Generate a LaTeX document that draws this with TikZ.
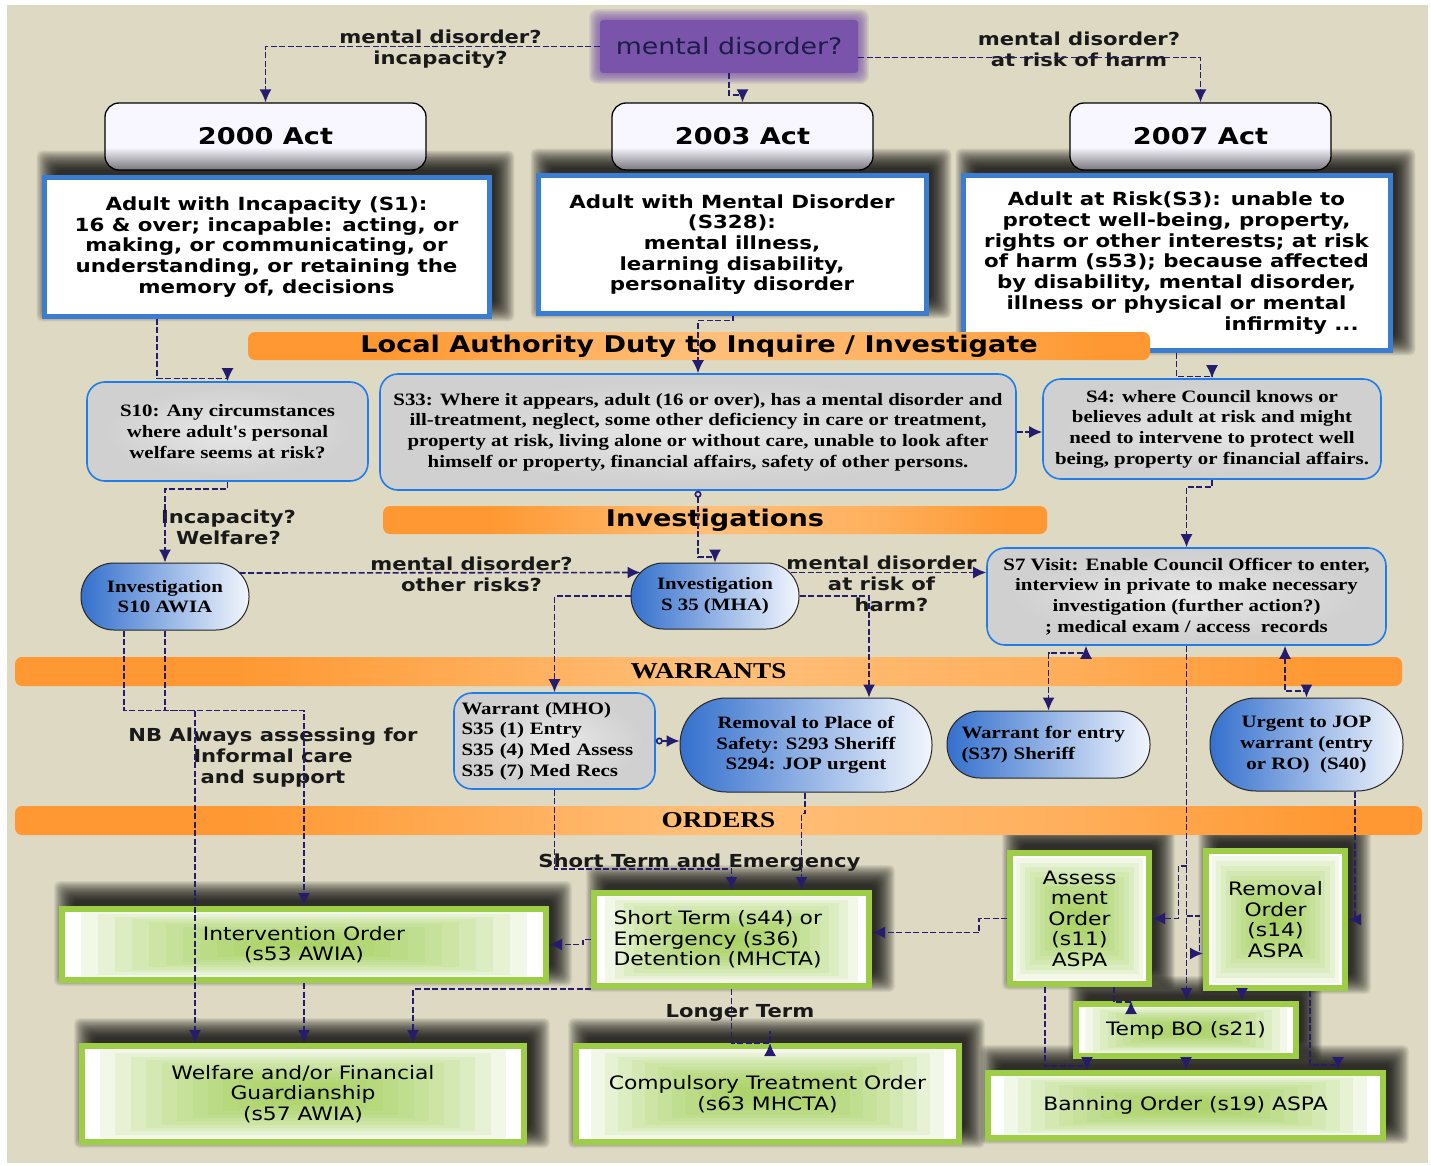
\documentclass[tikz,border=0pt]{standalone}
\usepackage{fontspec}
\setmainfont{DejaVu Sans}[FakeStretch=1.18]
\newfontfamily\tms{Liberation Serif}[FakeStretch=1.2]
\usetikzlibrary{arrows.meta,calc}
\pgfdeclarelayer{bgl}\pgfdeclarelayer{shl}
\pgfsetlayers{bgl,shl,main}
\definecolor{beige}{RGB}{221,217,195}
\definecolor{navy}{RGB}{38,28,110}
\definecolor{purp}{RGB}{122,84,170}
\definecolor{purptx}{RGB}{28,28,72}
\definecolor{bluebd}{RGB}{60,125,210}
\definecolor{graybd}{RGB}{30,125,235}
\definecolor{grayf}{RGB}{208,208,208}
\definecolor{grayc}{RGB}{232,232,232}
\definecolor{pillL}{RGB}{52,112,205}
\definecolor{pillR}{RGB}{242,246,253}
\definecolor{grn}{RGB}{158,205,72}
\definecolor{grnc}{RGB}{155,204,72}
\definecolor{or1}{RGB}{255,152,50}
\definecolor{or2}{RGB}{255,192,122}
\definecolor{actg}{RGB}{118,118,124}
\definecolor{actt}{RGB}{248,246,254}
\pgfdeclareverticalshading{actsh}{100bp}{color(0bp)=(actg); color(25bp)=(actg); color(42bp)=(actt); color(75bp)=(actt); color(100bp)=(actt)}
\pgfdeclarehorizontalshading{orsh}{100bp}{color(0bp)=(or1); color(25bp)=(or1); color(33bp)=(or1); color(50bp)=(or2); color(62bp)=(or2!60!or1); color(72bp)=(or1); color(100bp)=(or1)}
\pgfdeclareradialshading{gysh}{\pgfpoint{0bp}{0bp}}{color(0bp)=(grayc); color(22bp)=(grayf); color(50bp)=(grayf)}
\newcommand\mkbox[7]{%
 \pgfmathsetmacro\mcx{(#3+#5)/2}%
 \pgfmathsetmacro\mcy{(#4+#6)/2}%
 \pgfmathsetmacro\mw{#5-#3}%
 \pgfmathsetmacro\mh{#6-#4}%
 \node[#1, minimum width=\mw pt, minimum height=\mh pt] (#2) at (\mcx,\mcy) {#7};}
\newcommand\fuzz[1]{%
 \foreach \k in {0,...,28}{%
  \pgfmathsetmacro\ee{(\k-8)*0.7}%
  \fill[black,opacity=0.048,rounded corners=5pt] ($(#1.south west)+(9-\ee,-11+\ee)$) rectangle ($(#1.north east)+(9+\ee,-11-\ee)$);}}
\tikzset{
 every node/.style={align=center, inner sep=0pt, text=black},
 actbox/.style={draw=black, line width=1.3pt, rounded corners=14pt, shade, shading=actsh, font=\fontsize{23}{26}\selectfont\bfseries},
 bluebox/.style={draw=bluebd, line width=5pt, fill=white, font=\fontsize{18.1}{20.7}\selectfont\bfseries},
 graybox/.style={draw=graybd, line width=1.6pt, rounded corners=18pt, shade, shading=gysh, font=\tms\bfseries\fontsize{17.4}{20.7}\selectfont},
 pill/.style={draw=black!85, line width=1pt, left color=pillL, right color=pillR, font=\tms\bfseries\fontsize{17.4}{20.7}\selectfont},
 grnbox/.style={draw=grn, line width=6pt, fill=white, font=\fontsize{18.5}{20.5}\selectfont,
   path picture={\foreach \f in {0.08,0.15,0.22,0.29,0.36,0.43,0.5,0.57,0.64,0.71,0.78,0.85,0.92}{
     \fill[grnc,opacity=0.12] ($(path picture bounding box.south west)!\f*0.5!(path picture bounding box.north east)$) rectangle ($(path picture bounding box.north east)!\f*0.5!(path picture bounding box.south west)$);}}},
 barx/.style={rounded corners=7pt, shade, shading=orsh, font=\fontsize{23}{26}\selectfont\bfseries},
 bart/.style={rounded corners=7pt, shade, shading=orsh, font=\tms\bfseries\fontsize{22.7}{24}\selectfont},
 purpbox/.style={fill=purp, rounded corners=3pt, text=purptx, font=\fontsize{22.7}{25}\selectfont},
 lbl/.style={text=black!90, font=\fontsize{17.9}{21}\selectfont\bfseries},
 con/.style={draw=navy, line width=1.6pt, dash pattern=on 6pt off 2.5pt, -{Latex[length=13pt,width=12pt]}},
 both/.style={{Latex[length=13pt,width=12pt]}-{Latex[length=13pt,width=12pt]}},
 circ/.style={{Circle[open,length=7pt,width=7pt]}-{Latex[length=13pt,width=12pt]}},
}
\begin{document}
\begin{tikzpicture}[x=1pt,y=-1pt]
\useasboundingbox (0,0) rectangle (1431,1166);
\begin{pgfonlayer}{bgl}
 \fill[white] (0,0) rectangle (1431,1166);
 \fill[beige] (7,5) rectangle (1428,1163);
\end{pgfonlayer}
% top
\mkbox{purpbox}{pm}{600}{20}{858}{73}{mental disorder?}
\mkbox{actbox}{a2000}{105}{103}{426}{170}{2000 Act}
\mkbox{actbox}{a2003}{612}{103}{873}{170}{2003 Act}
\mkbox{actbox}{a2007}{1070}{103}{1331}{170}{2007 Act}
\mkbox{bluebox}{b2000}{44}{178}{489}{316}{Adult with Incapacity (S1):\\16 \& over; incapable: acting, or\\making, or communicating, or\\understanding, or retaining the\\memory of, decisions}
\mkbox{bluebox}{b2003}{538}{176}{926}{313}{Adult with Mental Disorder\\(S328):\\mental illness,\\learning disability,\\personality disorder}
\mkbox{bluebox}{b2007}{963}{176}{1390}{350}{Adult at Risk(S3): unable to\\protect well-being, property,\\rights or other interests; at risk\\of harm (s53); because affected\\by disability, mental disorder,\\illness or physical or mental\\\hspace*{230pt}infirmity ...}
% bars
\mkbox{barx}{barA}{248}{332}{1150}{360}{Local Authority Duty to Inquire / Investigate}
\mkbox{barx}{barB}{383}{506}{1047}{534}{Investigations}
\mkbox{bart}{barC}{15}{657}{1402}{686}{WARRANTS}
\mkbox{bart}{barD}{15}{806}{1422}{835}{ORDERS}
% gray boxes
\mkbox{graybox}{s10}{87}{382}{368}{481}{S10: Any circumstances\\where adult's personal\\welfare seems at risk?}
\mkbox{graybox}{s33}{380}{374}{1016}{490}{S33: Where it appears, adult (16 or over), has a mental disorder and\\ill-treatment, neglect, some other deficiency in care or treatment,\\property at risk, living alone or without care, unable to look after\\himself or property, financial affairs, safety of other persons.}
\mkbox{graybox}{s4}{1043}{379}{1381}{479}{S4: where Council knows or\\believes adult at risk and might\\need to intervene to protect well\\being, property or financial affairs.}
\mkbox{graybox}{s7}{987}{548}{1386}{645}{S7 Visit: Enable Council Officer to enter,\\interview in private to make necessary\\investigation (further action?)\\; medical exam / access~~records}
\mkbox{graybox,align=left,text width=186pt}{wmho}{454}{693}{655}{789}{Warrant (MHO)\\S35 (1) Entry\\S35 (4) Med Assess\\S35 (7) Med Recs}
% pills
\mkbox{pill,rounded corners=33pt}{i10}{81}{563}{249}{630}{Investigation\\S10 AWIA}
\mkbox{pill,rounded corners=32.5pt}{i35}{631}{563}{799}{629}{Investigation\\S 35 (MHA)}
\mkbox{pill,rounded corners=46.5pt}{rps}{680}{698}{932}{792}{Removal to Place of\\Safety: S293 Sheriff\\S294: JOP urgent}
\mkbox{pill,rounded corners=33pt,align=left,text width=174pt}{wfe}{947}{711}{1150}{778}{Warrant for entry\\(S37) Sheriff}
\mkbox{pill,rounded corners=46pt}{ujop}{1210}{698}{1403}{791}{Urgent to JOP\\warrant (entry\\or RO)~~(S40)}
% green boxes
\mkbox{grnbox}{io}{62}{909}{546}{980}{Intervention Order\\(s53 AWIA)}
\mkbox{grnbox,align=left,text width=236pt}{st}{594}{893}{869}{986}{Short Term (s44) or\\Emergency (s36)\\Detention (MHCTA)}
\mkbox{grnbox}{ao}{1010}{853}{1149}{984}{Assess\\ment\\Order\\(s11)\\ASPA}
\mkbox{grnbox}{ro}{1206}{851}{1345}{988}{Removal\\Order\\(s14)\\ASPA}
\mkbox{grnbox}{tbo}{1076}{1004}{1296}{1056}{Temp BO (s21)}
\mkbox{grnbox}{wg}{82}{1046}{524}{1142}{Welfare and/or Financial\\Guardianship\\(s57 AWIA)}
\mkbox{grnbox}{cto}{576}{1046}{959}{1142}{Compulsory Treatment Order\\(s63 MHCTA)}
\mkbox{grnbox}{bo}{988}{1073}{1383}{1138}{Banning Order (s19) ASPA}
% labels
\node[lbl] (l1) at (440.5,49) {mental disorder?\\incapacity?};
\node[lbl] (l2) at (1079,49) {mental disorder?\\at risk of harm};
\node[lbl] (l3) at (228.5,527) {Incapacity?\\Welfare?};
\node[lbl] (l4) at (471.5,574) {mental disorder?\\other risks?};
\node[lbl] (l5) at (881.5,584) {mental disorder\\at risk of\\\hspace*{20pt}harm?};
\node[lbl] (l6) at (273,758) {NB Always assessing for\\Informal care\\and support};
\node[lbl] (l7) at (699.5,863) {Short Term and Emergency};
\node[lbl] (l8) at (740,1013) {Longer Term};
% shadows
\begin{pgfonlayer}{shl}
 \foreach \n in {b2000,b2003,b2007,io,st,ao,ro,tbo,wg,cto,bo} {\fuzz{\n}}
 \foreach \e in {1,...,7}{
  \fill[purp,opacity=0.16,rounded corners=8pt] ($(pm.south west)+(-\e*1.5,\e*1.5)$) rectangle ($(pm.north east)+(\e*1.5,-\e*1.5)$);}
\end{pgfonlayer}
% connectors
\draw[con] (pm.west) -| (a2000.north);
\draw[con] (pm.south) -- ++(0,22) -| (a2003.north);
\draw[con] ($(pm.east)+(0,11)$) -| (a2007.north);
\draw[con] ([xshift=-109.5pt]b2000.south) -- ++(0,60) -| (s10.north);
\draw[con] ([xshift=1pt]b2003.south) -- ++(0,5) -| (s33.north);
\draw[con] (b2007.south) -- ++(0,24) -| (s4.north);
\draw[con] (s33.east) -- (s33.east -| s4.west);
\draw[con] (s10.south) -- ++(0,7) -| (i10.north);
\draw[con,circ] (s33.south) -- ++(0,66) -| (i35.north);
\draw[con] (s4.south) -- ++(0,7) -| (s7.north);
\draw[con] ($(i10.east)+(-10,-23.5)$) -- ($(i35.west)+(10,-23.5)$);
\draw[con] ($(i35.east)+(-9,-23.5)$) -- ($(s7.west)+(0,-24)$);
\draw[con] (i35.west) -| (wmho.north);
\draw[con] (i35.east) -| ([xshift=63pt]rps.north);
\draw[con,circ] (wmho.east) -- (wmho.east -| rps.west);
\draw[con] (wmho.south) -- ++(0,79) -| (st.north);
\draw[con] ([xshift=-1pt]rps.south) -- ++(0,21) -| ([xshift=70pt]st.north);
\draw[con,both] ([xshift=-100.5pt]s7.south) -- ++(0,7) -| (wfe.north);
\draw[con] (s7.south) -- (s7.south |- tbo.north);
\draw[con] ($(s7.south)+(0,220)$) -- ++(-8,0) |- (ao.east);
\draw[con] ($(s7.south)+(0,270)$) -- ++(13,0) |- ($(ro.west)+(0,34)$);
\draw[con,both] ([xshift=98.5pt]s7.south) -- ++(0,45) -| (ujop.north);
\draw[con] ([xshift=48.5pt]ujop.south) |- (ro.east);
\draw[con] (ao.west) -- ++(-28,0) |- ($(st.east)+(0,-7)$);
\draw[con] (st.west) -- ++(-8,0) |- (io.east);
\draw[con] (st.south west) -| ([xshift=110pt]wg.north);
\draw[con] (st.south) -- ++(0,54) -| ([xshift=2.5pt]cto.north);
\draw[con] (io.south) -- (io.south |- wg.north);
\draw[con] ([xshift=-41pt]i10.south) -- ++(0,80) -| (io.north);
\draw[con] (i10.south) -- ++(0,80) -| ([xshift=-108pt]wg.north);
\draw[con] ([xshift=-34.5pt]ao.south) -- ++(0,79) -| ([xshift=-98.5pt]bo.north);
\draw[con] ([xshift=34.5pt]ao.south) -- ++(0,15) -| ([xshift=-55pt]tbo.north);
\draw[con] ([xshift=-33.5pt]ro.south) -- ([xshift=-33.5pt]ro.south |- tbo.north);
\draw[con] ([xshift=34.5pt]ro.south) -- ++(0,74) -| ([xshift=152.5pt]bo.north);
\draw[con] (tbo.south) -- (tbo.south |- bo.north);
\end{tikzpicture}
\end{document}
